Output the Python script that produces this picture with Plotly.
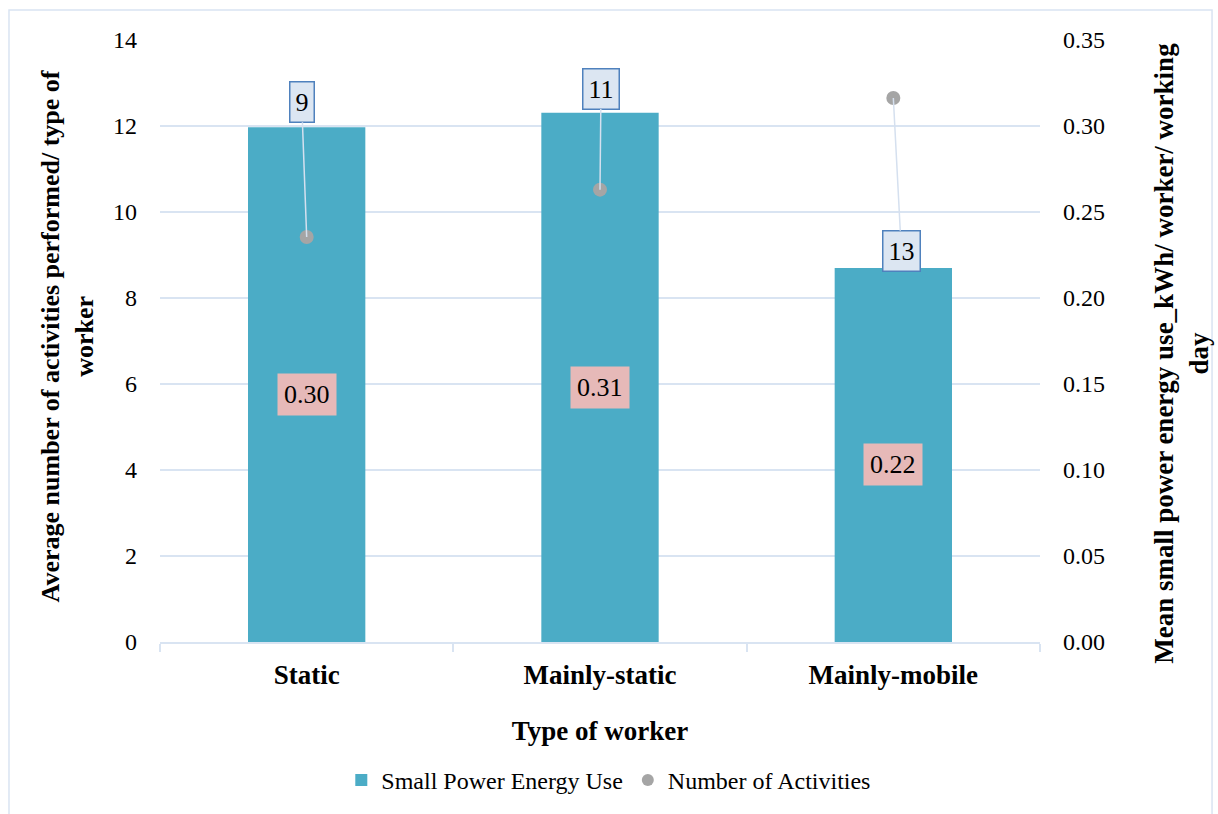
import plotly.graph_objects as go

# Worker categories and the two measured series
categories = ["Static", "Mainly-static", "Mainly-mobile"]
energy_use = [0.2993, 0.3077, 0.2175]          # kWh / worker / working day (right axis)
activities = [9.42, 10.52, 12.65]              # average number of activities (left axis)

left_ticks = [0, 2, 4, 6, 8, 10, 12, 14]
right_ticks = [0.00, 0.05, 0.10, 0.15, 0.20, 0.25, 0.30, 0.35]

# Callout offsets (pixels) for the activity labels
callout_dx = [-5, 1, 8]
callout_dy = [-135, -101, 153]

FONT = "Liberation Serif"
GRID = "#d9e4f2"
BAR = "#4bacc6"
POINT = "#a5a5a5"
BLACK = "#000000"

fig = go.Figure()

# Bars on the right-hand energy axis (yaxis), points on the overlaying left axis (yaxis2)
fig.add_trace(go.Bar(
    x=categories, y=energy_use, name="Small Power Energy Use",
    marker=dict(color=BAR, line=dict(width=0)),
    width=0.4, yaxis="y",
))

fig.add_trace(go.Scatter(
    x=categories, y=activities, name="Number of Activities",
    mode="markers", marker=dict(color=POINT, size=14),
    yaxis="y2",
))

annotations = []
# Energy labels centred inside each bar
for c, v in zip(categories, energy_use):
    annotations.append(dict(
        x=c, y=v / 2, xref="x", yref="y", text=f"{v:.2f}",
        showarrow=False, bgcolor="#e6b9b8", borderpad=6,
        font=dict(family=FONT, size=26, color=BLACK), yshift=-10,
    ))

# Activity labels as boxed callouts with leader lines
for c, v, dx, dy in zip(categories, activities, callout_dx, callout_dy):
    annotations.append(dict(
        x=c, y=v, xref="x", yref="y2", text=f"{v:.0f}",
        showarrow=True, arrowhead=0, arrowwidth=1.5, arrowcolor="#d5e0ef",
        ax=dx, ay=dy, standoff=0,
        bgcolor="#dce6f2", bordercolor="#4f81bd", borderwidth=1.5, borderpad=5,
        font=dict(family=FONT, size=26, color=BLACK),
    ))

# Axis titles
annotations.append(dict(
    xref="paper", yref="paper", x=-0.105, y=0.507, textangle=-90,
    text="<b>Average number of activities performed/ type of<br>worker</b>",
    showarrow=False, font=dict(family=FONT, size=26, color=BLACK),
    xanchor="center", yanchor="middle",
))
annotations.append(dict(
    xref="paper", yref="paper", x=1.16, y=0.48, textangle=-90,
    text="<b>Mean small power energy use_kWh/ worker/ working<br>day</b>",
    showarrow=False, font=dict(family=FONT, size=27, color=BLACK),
    xanchor="center", yanchor="middle",
))

fig.update_layout(
    width=1218, height=814,
    margin=dict(l=160, r=178, t=40, b=171),
    paper_bgcolor="white", plot_bgcolor="white",
    font=dict(family=FONT, size=24, color=BLACK),
    bargap=0.6,
    showlegend=True,
    legend=dict(
        orientation="h", x=0.51, xanchor="center", y=-0.228, yanchor="middle",
        font=dict(family=FONT, size=24, color=BLACK),
        itemsizing="constant",
    ),
    xaxis=dict(
        showline=True, linecolor=GRID, linewidth=2,
        ticks="outside", tickson="boundaries", ticklen=8, tickcolor=GRID, tickwidth=2,
        tickfont=dict(family=FONT, size=27, color=BLACK),
        tickprefix="<b>", ticksuffix="</b>", ticklabelstandoff=8,
        title=dict(text="<b>Type of worker</b>", standoff=32,
                   font=dict(family=FONT, size=27, color=BLACK)),
        showgrid=False,
    ),
    yaxis=dict(
        range=[0, 0.35], tickvals=right_ticks, ticktext=[f"{t:.2f}" for t in right_ticks],
        side="right", showgrid=True, gridcolor=GRID, gridwidth=2, zeroline=False,
        showline=False, ticklabelstandoff=22,
        tickfont=dict(family=FONT, size=24, color=BLACK),
    ),
    yaxis2=dict(
        range=[0, 14], tickvals=left_ticks, ticktext=[str(t) for t in left_ticks],
        overlaying="y", side="left", showgrid=False, zeroline=False,
        showline=False, ticklabelstandoff=22,
        tickfont=dict(family=FONT, size=24, color=BLACK),
    ),
    annotations=annotations,
    shapes=[dict(
        type="rect", xref="paper", yref="paper",
        x0=-0.1716, x1=1.1955, y0=-0.35, y1=1.0498,
        line=dict(color=GRID, width=1.5), fillcolor="rgba(0,0,0,0)",
        layer="below",
    )],
)

fig.write_html("out.html")
